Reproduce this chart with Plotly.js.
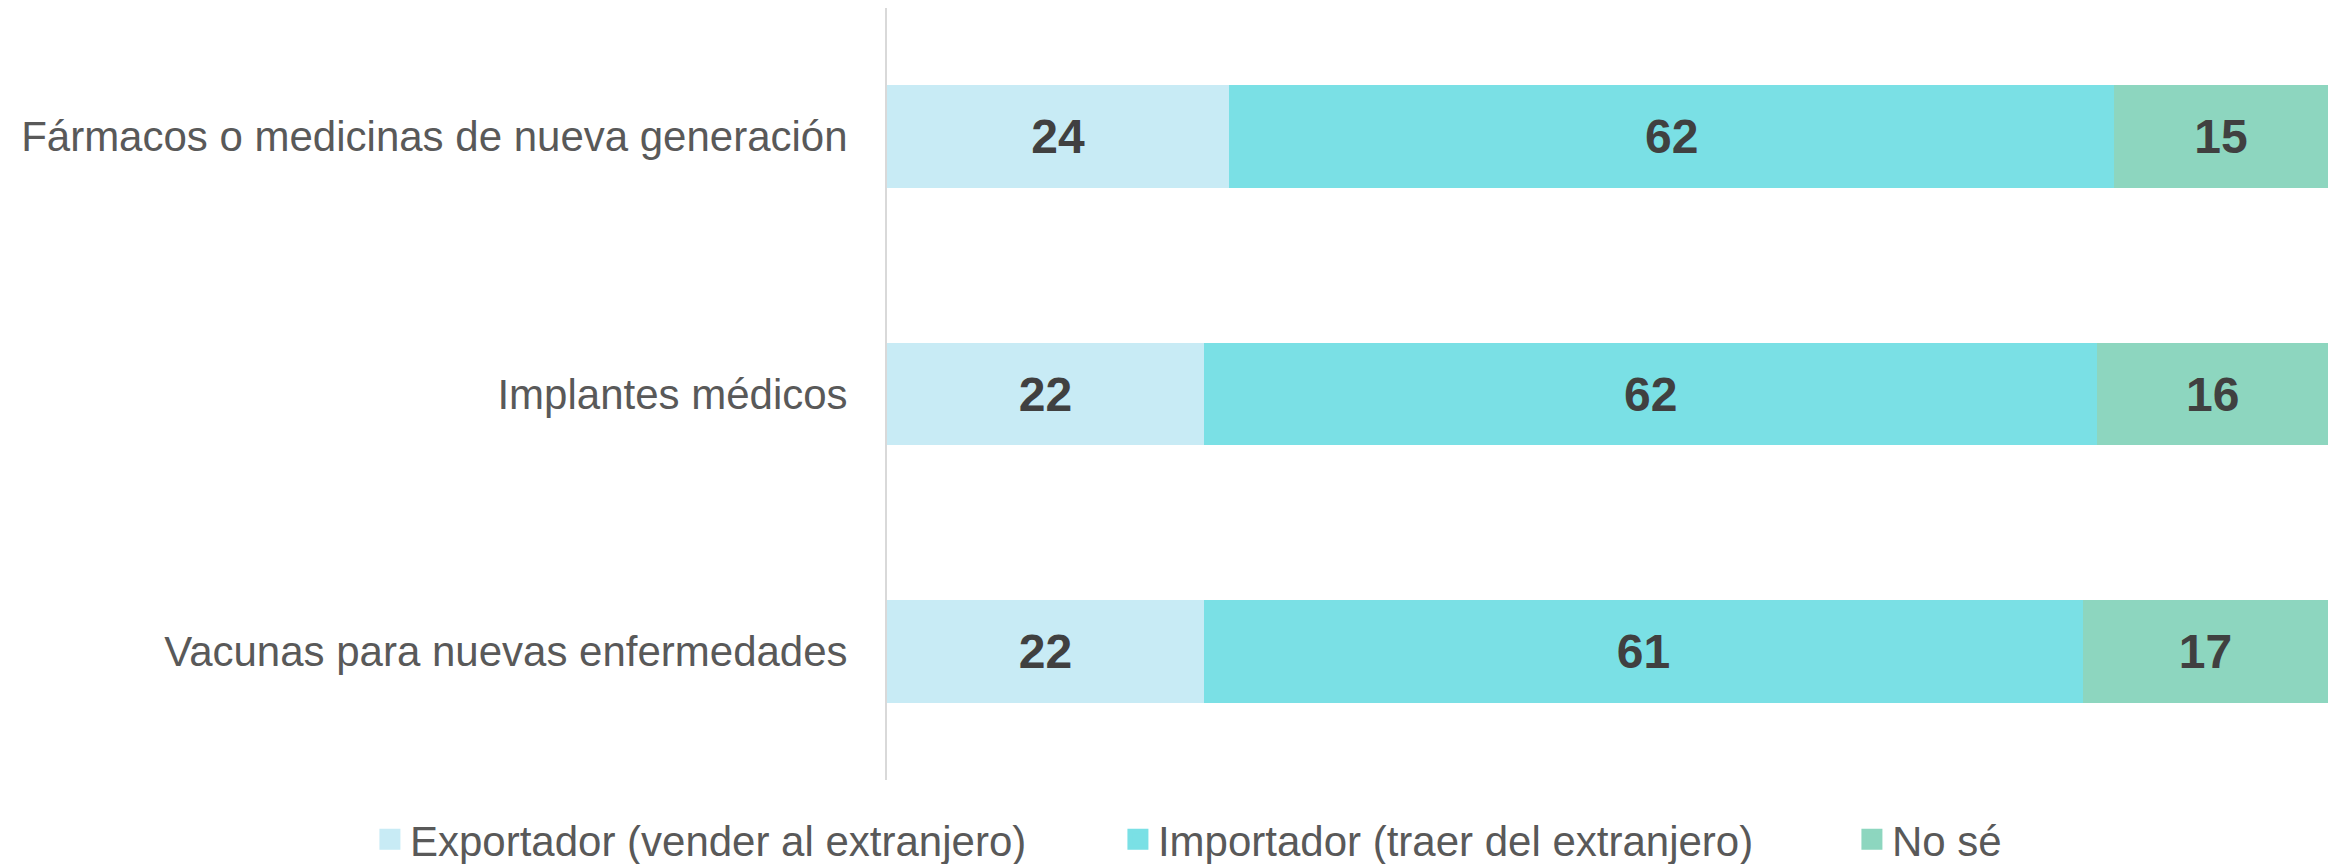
<!DOCTYPE html>
<html>
<head>
<meta charset="utf-8">
<script src="https://cdn.plot.ly/plotly-3.0.1.min.js"></script>
<style>html,body{margin:0;padding:0;background:#fff;}#chart{width:2336px;height:864px;}</style>
</head>
<body>
<div id="chart"></div>
<script>
const categories = ["Fármacos o medicinas de nueva generación", "Implantes médicos", "Vacunas para nuevas enfermedades"];
const seriesNames = ["Exportador (vender al extranjero)", "Importador (traer del extranjero)", "No sé"];
const exportador = [24, 22, 22];
const importador = [62, 62, 61];
const noSe = [15, 16, 17];
const colors = ["#C8EBF5", "#7AE0E5", "#8DD6BF"];

const seriesValues = [exportador, importador, noSe];
const font = "'Liberation Sans', Arial, sans-serif";
const legendWidths = [703, 689, 0];

const traces = [];
seriesValues.forEach((vals, i) => {
  traces.push({
    type: "bar", orientation: "h",
    y: categories, x: vals,
    name: seriesNames[i],
    marker: {color: colors[i], line: {width: 0}},
    width: 0.4,
    text: vals.map(String),
    textposition: "inside",
    insidetextanchor: "middle",
    constraintext: "none",
    textfont: {family: font, size: 48, color: "#404040", weight: "bold"},
    showlegend: false,
    hoverinfo: "skip"
  });
});
seriesNames.forEach((n, i) => {
  const t = {
    type: "scatter", mode: "markers",
    x: [null], y: [null],
    name: n,
    marker: {symbol: "square", size: 16, color: colors[i], line: {color: colors[i], width: 5}},
    showlegend: true
  };
  if (legendWidths[i]) t.legendwidth = legendWidths[i];
  traces.push(t);
});

const W = 2336, ML = 8, MR = 8, AXIS_LEFT = 887;
const layout = {
  width: W, height: 864,
  margin: {l: ML, r: MR, t: 8, b: 84},
  paper_bgcolor: "#ffffff", plot_bgcolor: "#ffffff",
  barmode: "stack",
  barnorm: "percent",
  font: {family: font, size: 42, color: "#595959"},
  xaxis: {domain: [(AXIS_LEFT - ML) / (W - ML - MR), 1], range: [0, 100], showgrid: false, zeroline: false, showticklabels: false, showline: false, fixedrange: true},
  yaxis: {
    type: "category", categoryorder: "array", categoryarray: categories,
    range: [2.5, -0.5],
    showgrid: false, zeroline: false,
    showline: true, linecolor: "#d9d9d9", linewidth: 2,
    ticks: "", ticklabelstandoff: 29,
    tickfont: {family: font, size: 42, color: "#595959"}
  },
  legend: {
    orientation: "h", xref: "paper", yref: "container",
    x: 0.156, xanchor: "left", y: 0.0283, yanchor: "middle",
    font: {family: font, size: 42, color: "#595959"},
    itemsizing: "trace", traceorder: "normal"
  },
  showlegend: true
};

Plotly.newPlot("chart", traces, layout, {displayModeBar: false, staticPlot: true});
</script>
</body>
</html>
